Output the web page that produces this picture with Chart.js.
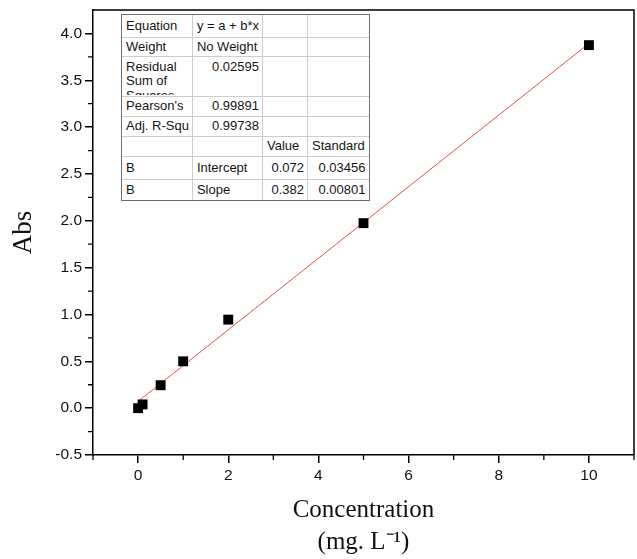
<!DOCTYPE html>
<html><head><meta charset="utf-8">
<script src="https://cdn.jsdelivr.net/npm/chart.js@4/dist/chart.umd.min.js"></script>
<style>
html,body{margin:0;padding:0;background:#fff;}
#wrap{position:relative;width:637px;height:559px;}
#tbox{position:absolute;left:121px;top:14px;border:1px solid #6e6e6e;background:#fff;}
#stats{border-collapse:collapse;table-layout:fixed;font-family:"Liberation Sans",Arial,sans-serif;font-size:13px;color:#151515;}
#stats td{border:1px solid #cdcdcd;padding:0 3px 0 4px;white-space:nowrap;overflow:hidden;line-height:14px;vertical-align:middle;}
#stats tr:first-child td{border-top:none;}
#stats td:first-child{border-left:none;}
#stats td:last-child{border-right:none;}
#stats tr:last-child td{border-bottom:none;}
#stats td.r{text-align:right;}
#stats td.top{vertical-align:top;}
.clip{height:38px;overflow:hidden;white-space:normal;line-height:14.5px;padding-top:3px;box-sizing:border-box;}
</style></head>
<body>
<div id="wrap">
<canvas id="c" width="637" height="559"></canvas>
<div id="tbox">
<table id="stats">
<colgroup><col style="width:70px"><col style="width:67px"><col style="width:45px"><col style="width:61px"></colgroup>
<tr style="height:22px"><td>Equation</td><td>y = a + b*x</td><td></td><td></td></tr>
<tr style="height:19px"><td>Weight</td><td>No Weight</td><td></td><td></td></tr>
<tr style="height:40px"><td class="top"><div class="clip">Residual<br>Sum of<br>Squares</div></td><td class="r top" style="padding-top:3px">0.02595</td><td></td><td></td></tr>
<tr style="height:20px"><td>Pearson's</td><td class="r">0.99891</td><td></td><td></td></tr>
<tr style="height:20px"><td>Adj. R-Squ</td><td class="r">0.99738</td><td></td><td></td></tr>
<tr style="height:20px"><td></td><td></td><td>Value</td><td>Standard</td></tr>
<tr style="height:23px"><td>B</td><td>Intercept</td><td class="r">0.072</td><td class="r">0.03456</td></tr>
<tr style="height:21px"><td>B</td><td>Slope</td><td class="r">0.382</td><td class="r">0.00801</td></tr>
</table>
</div>
</div>
<script>
// Data
const concentration = [0, 0.1, 0.5, 1, 2, 5, 10];
const absorbance = [0.0, 0.04, 0.245, 0.50, 0.945, 1.975, 3.875];
const fitX = [0, 10];
const fitY = [0.072, 3.892];
const xMajorTicks = [0, 2, 4, 6, 8, 10];
const xMinorTicks = [-1, 1, 3, 5, 7, 9, 11];
const yMajorTicks = [-0.5, 0.0, 0.5, 1.0, 1.5, 2.0, 2.5, 3.0, 3.5, 4.0];
const yMinorTicks = [-0.25, 0.25, 0.75, 1.25, 1.75, 2.25, 2.75, 3.25, 3.75];

const frameAndMinor = {
  id: 'frameAndMinor',
  afterDraw(chart) {
    const {ctx, chartArea: a, scales: {x, y}} = chart;
    ctx.save();
    ctx.strokeStyle = '#000';
    ctx.lineWidth = 1.5;
    ctx.beginPath();
    ctx.moveTo(a.left, a.top); ctx.lineTo(a.right, a.top); ctx.lineTo(a.right, a.bottom);
    ctx.stroke();
    ctx.lineWidth = 1.3;
    ctx.beginPath();
    xMinorTicks.forEach(v => { const px = x.getPixelForValue(v); ctx.moveTo(px, a.bottom); ctx.lineTo(px, a.bottom + 5); });
    yMinorTicks.forEach(v => { const py = y.getPixelForValue(v); ctx.moveTo(a.left, py); ctx.lineTo(a.left - 5, py); });
    ctx.stroke();
    ctx.restore();
  }
};

const tickFont = {family: '"Liberation Sans", Arial, sans-serif', size: 15.5};
const titleFont = {family: '"Liberation Serif", "Times New Roman", serif', size: 25, lineHeight: 1.3};

new Chart(document.getElementById('c'), {
  type: 'scatter',
  data: {
    datasets: [
      {
        label: 'Fit',
        type: 'line',
        data: fitX.map((v, i) => ({x: v, y: fitY[i]})),
        borderColor: 'rgba(225,60,60,0.9)',
        borderWidth: 1,
        pointRadius: 0,
        fill: false,
        order: 2
      },
      {
        label: 'Abs',
        data: concentration.map((v, i) => ({x: v, y: absorbance[i]})),
        pointStyle: 'rect',
        pointRadius: 7,
        pointHoverRadius: 7,
        backgroundColor: '#000',
        borderColor: '#000',
        borderWidth: 0,
        order: 1
      }
    ]
  },
  options: {
    responsive: false,
    animation: false,
    layout: {autoPadding: false, padding: {top: 10, right: 3, left: 0, bottom: 0}},
    plugins: {legend: {display: false}, tooltip: {enabled: false}},
    scales: {
      x: {
        type: 'linear',
        min: -1, max: 11,
        afterBuildTicks: s => { s.ticks = xMajorTicks.map(v => ({value: v})); },
        afterFit: s => { s.height = 104; s.paddingLeft = 0; s.paddingRight = 0; },
        ticks: {font: tickFont, color: '#111', padding: 3, autoSkip: false, maxRotation: 0, callback: v => String(v)},
        grid: {display: true, drawOnChartArea: false, drawTicks: true, tickLength: 8, color: '#000', lineWidth: 1.5},
        border: {display: true, color: '#000', width: 1.5},
        title: {display: true, text: ['Concentration', '(mg. L\u207B\u00B9)'], font: titleFont, color: '#111', padding: {top: 0, bottom: 0}}
      },
      y: {
        type: 'linear',
        min: -0.5, max: 4.25,
        afterBuildTicks: s => { s.ticks = yMajorTicks.map(v => ({value: v})); },
        afterFit: s => { s.width = 93; s.paddingTop = 0; s.paddingBottom = 0; },
        ticks: {font: tickFont, color: '#111', padding: 3, autoSkip: false, callback: v => Number(v).toFixed(1)},
        grid: {display: true, drawOnChartArea: false, drawTicks: true, tickLength: 8, color: '#000', lineWidth: 1.5},
        border: {display: true, color: '#000', width: 1.5},
        title: {display: true, text: 'Abs', font: {family: '"Liberation Serif", "Times New Roman", serif', size: 27}, color: '#111', padding: {top: 8, bottom: 0}}
      }
    }
  },
  plugins: [frameAndMinor]
});
</script>
</body></html>
